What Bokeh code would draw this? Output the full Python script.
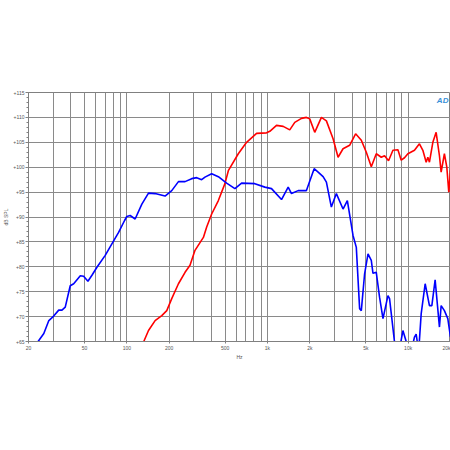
from bokeh.plotting import figure
from bokeh.models import Range1d, FixedTicker, Label
from bokeh.embed import file_html
from bokeh.resources import INLINE

# Woofer-like response (blue)
blue_freq = [20, 23.4, 25.7, 27.9, 30.2, 32.8, 34.6, 36.5, 39.6, 41.9, 46.7, 49.3, 52.9, 56.5, 61.3,
             70.2, 78.3, 87.4, 96.4, 100, 105.6, 114.6, 127.9, 142.6, 158.9, 187, 208.6, 232.8, 259.4,
             289.3, 313.9, 340.5, 359.4, 401, 447.4, 512.4, 586.7, 654.6, 813.4, 957.6, 1068, 1258,
             1403, 1481, 1652, 1892, 2146, 2291, 2485, 2623, 2845, 3088, 3444, 3696, 4056, 4280, 4518,
             4645, 4903, 5183, 5470, 5623, 5934, 6262, 6622, 7184, 7375, 8000, 8500, 9177, 9683, 10340,
             11090, 11400, 11880, 12380, 13210, 14170, 14740, 15550, 16690, 17160, 18100, 19140, 20000]
blue_db = [61, 65, 66.6, 69.2, 70.1, 71.3, 71.3, 71.9, 76.2, 76.6, 78.2, 78.1, 77.1, 78.3, 79.9,
           82.3, 84.6, 86.9, 89.3, 90.1, 90.3, 89.6, 92.6, 94.8, 94.7, 94.2, 95.3, 97.1, 97.1,
           97.7, 97.9, 97.5, 98.0, 98.7, 98.1, 96.8, 95.7, 96.8, 96.7, 96.0, 95.7, 93.5,
           96.0, 94.7, 95.3, 95.3, 99.7, 99.0, 98.1, 97.0, 92.0, 94.7, 91.6, 93.3, 86.3, 83.9, 71.6,
           71.2, 78.6, 82.6, 81.3, 78.7, 78.9, 73.9, 69.6, 74.2, 73.6, 64.9, 62, 67.2, 65, 62,
           65.9, 66.5, 63, 70.6, 76.6, 72.2, 72.2, 77.4, 67.9, 72.2, 71.2, 69.6, 65.9]

# Compression-driver-like response (red)
red_freq = [120, 131.5, 142.6, 158.9, 177.2, 192.3, 208.6, 232.8, 259.4, 281.3, 305.3, 350.2, 369.6,
            401, 447.4, 498.3, 526.8, 620.2, 710.2, 836.3, 984.5, 1039, 1159, 1293, 1440, 1563, 1744,
            1892, 1997, 2167, 2417, 2623, 2926, 3175, 3444, 3837, 4231, 4645, 5040, 5470, 5934, 6440,
            6796, 7255, 7795, 8457, 8925, 9420, 9958, 11090, 12030, 12720, 13430, 13800, 14170, 14980,
            15810, 16690, 17160, 18100, 18830, 19450, 20000]
red_db = [62, 64.9, 67.2, 69.2, 70.2, 71.2, 73.6, 76.6, 78.9, 80.3, 83.3, 85.9, 88.0,
          90.6, 93.3, 96.7, 99.3, 102.7, 105.0, 106.8, 106.9, 107.2, 108.4, 108.2, 107.5, 109.0, 109.8,
          110.0, 109.7, 107.0, 110.0, 109.3, 105.7, 102.0, 103.7, 104.4, 106.7, 105.4, 103.0, 100.1, 102.7, 102.0,
          102.3, 101.3, 103.4, 103.5, 101.4, 101.9, 102.7, 103.4, 104.7, 103.4, 101.0, 102.0, 101.0, 105.0,
          107.0, 102.3, 99.0, 102.7, 100.0, 95.0, 99.4]

x_ticks = [20, 50, 100, 200, 500, 1000, 2000, 5000, 10000, 20000]
x_tick_labels = ["20", "50", "100", "200", "500", "1k", "2k", "5k", "10k", "20k"]
x_grid = [20, 30, 40, 50, 60, 70, 80, 90, 100, 200, 300, 400, 500, 600, 700, 800, 900,
          1000, 2000, 3000, 4000, 5000, 6000, 7000, 8000, 9000, 10000, 20000]
y_ticks = [65, 70, 75, 80, 85, 90, 95, 100, 105, 110, 115]
y_tick_labels = ["+65", "+70", "+75", "+80", "+85", "+90", "+95", "+100", "+105", "+110", "+115"]
y_minor = list(range(65, 116))

p = figure(width=450, height=442, x_axis_type="log",
           x_range=Range1d(20, 20000), y_range=Range1d(65, 115),
           output_backend="svg", toolbar_location=None,
           min_border_left=0, min_border_right=0, min_border_top=92, min_border_bottom=101)

p.background_fill_color = "white"
p.border_fill_color = "white"
p.outline_line_color = "#808080"

grid_col = "#8a8a8a"
p.xgrid.ticker = FixedTicker(ticks=x_grid)
p.xgrid.grid_line_color = grid_col
p.xgrid.grid_line_width = 1
p.ygrid.ticker = FixedTicker(ticks=y_ticks)
p.ygrid.grid_line_color = grid_col
p.ygrid.grid_line_width = 1

lab_col = "#555555"
xa = p.xaxis[0]
xa.ticker = FixedTicker(ticks=x_ticks)
xa.major_label_overrides = {t: l for t, l in zip(x_ticks, x_tick_labels)}
xa.major_label_text_font_size = "5px"
xa.major_label_text_color = lab_col
xa.major_label_text_font = "Liberation Sans"
xa.major_label_standoff = 1
xa.major_tick_out = 2
xa.major_tick_in = 0
xa.minor_tick_line_color = None
xa.axis_line_color = "#808080"
xa.major_tick_line_color = "#808080"
xa.axis_label = "Hz"
xa.axis_label_text_font_size = "5px"
xa.axis_label_text_font_style = "normal"
xa.axis_label_text_color = lab_col
xa.axis_label_text_font = "Liberation Sans"
xa.axis_label_standoff = 0

ya = p.yaxis[0]
ya.ticker = FixedTicker(ticks=y_ticks, minor_ticks=y_minor)
ya.major_label_overrides = {t: l for t, l in zip(y_ticks, y_tick_labels)}
ya.major_label_text_font_size = "5px"
ya.major_label_text_color = lab_col
ya.major_label_text_font = "Liberation Sans"
ya.major_label_standoff = 1
ya.major_tick_out = 3
ya.major_tick_in = 0
ya.minor_tick_out = 2
ya.minor_tick_in = 0
ya.axis_line_color = "#808080"
ya.major_tick_line_color = "#808080"
ya.minor_tick_line_color = "#808080"
ya.axis_label = "dB SPL"
ya.axis_label_text_font_size = "5px"
ya.axis_label_text_font_style = "normal"
ya.axis_label_text_color = lab_col
ya.axis_label_text_font = "Liberation Sans"
ya.axis_label_standoff = 1

p.line(red_freq, red_db, line_color="#ff0000", line_width=1.6)
p.line(blue_freq, blue_db, line_color="#0000ff", line_width=1.6)

p.add_layout(Label(x=16000, y=112.4, text="AD", text_font_size="8px",
                   text_font_style="bold italic", text_color="#3a8fd8",
                   text_font="Liberation Sans"))

open("out.html", "w").write(file_html(p, INLINE))
